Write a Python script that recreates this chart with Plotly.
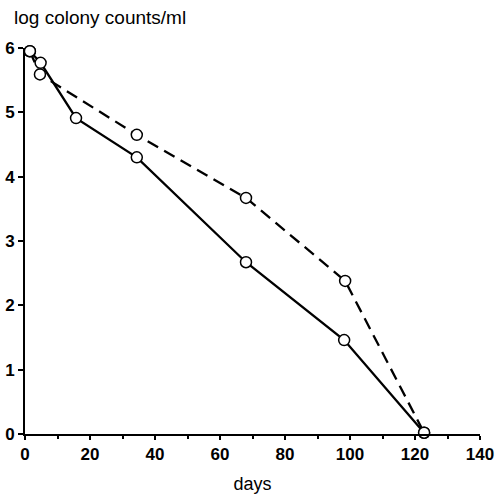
import plotly.graph_objects as go

solid_days = [1.5, 4.8, 15.7, 34.4, 68, 98.2, 122.8]
solid_log = [5.95, 5.77, 4.91, 4.30, 2.67, 1.46, 0.02]

dashed_days = [1.5, 4.6, 34.4, 68, 98.5, 122.8]
dashed_log = [5.95, 5.59, 4.65, 3.67, 2.38, 0.02]

x_ticks = [0, 20, 40, 60, 80, 100, 120, 140]
y_ticks = [0, 1, 2, 3, 4, 5, 6]

font_family = "Liberation Sans, Arial, sans-serif"

fig = go.Figure()
fig.add_trace(go.Scatter(
    x=dashed_days, y=dashed_log, mode="lines+markers",
    line=dict(color="black", width=2.3, dash="12px,7px"),
    marker=dict(symbol="circle", size=11, color="white", line=dict(color="black", width=1.5)),
    cliponaxis=False, showlegend=False))
fig.add_trace(go.Scatter(
    x=solid_days, y=solid_log, mode="lines+markers",
    line=dict(color="black", width=2.3),
    marker=dict(symbol="circle", size=11, color="white", line=dict(color="black", width=1.5)),
    cliponaxis=False, showlegend=False))

fig.update_layout(
    width=497, height=495,
    margin=dict(l=25, r=17, t=48, b=61),
    paper_bgcolor="white", plot_bgcolor="white",
    font=dict(family=font_family, size=16, color="black"),
    xaxis=dict(range=[0, 140], tickvals=x_ticks, showgrid=False, zeroline=False,
               automargin=False,
               showline=True, linecolor="black", linewidth=2,
               ticks="outside", ticklen=4, tickwidth=1.5, tickcolor="black",
               tickfont=dict(size=17, weight="bold"),
               minor=dict(dtick=10, ticks="outside", ticklen=3, tickwidth=1.5, tickcolor="black"),
               title=dict(text="days", standoff=14, font=dict(size=18))),
    yaxis=dict(range=[0, 6], tickvals=y_ticks, showgrid=False, zeroline=False,
               automargin=False,
               showline=True, linecolor="black", linewidth=2,
               ticks="outside", ticklen=5, tickwidth=1.5, tickcolor="black",
               tickfont=dict(size=17, weight="bold")),
    annotations=[dict(text="log colony counts/ml", xref="paper", yref="paper",
                      x=-0.0286, y=1.079, xanchor="left", yanchor="middle",
                      showarrow=False, font=dict(size=19))],
)

fig.write_html("out.html")
